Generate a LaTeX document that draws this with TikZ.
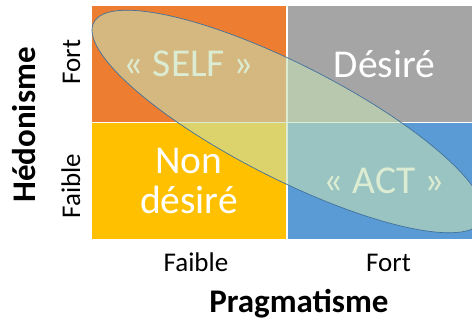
\documentclass[tikz,border=0pt]{standalone}
\usepackage{fontspec}
\setmainfont{Carlito}
\usepackage{xcolor}
\usepackage{tikz}
\usetikzlibrary{positioning,calc}
\definecolor{qorange}{HTML}{ED7D31}
\definecolor{qgray}{HTML}{A5A5A5}
\definecolor{qyellow}{HTML}{FFC000}
\definecolor{qblue}{HTML}{5B9BD5}
\definecolor{ovalfill}{HTML}{C5E0B4}
\definecolor{ovaledge}{HTML}{41719C}
\tikzset{
  quadbox/.style={draw=white, line width=1pt, minimum width=195pt,
                  minimum height=117pt, inner sep=0pt, text=white,
                  align=center, font=\fontsize{39.5}{40}\selectfont},
  ticklabel/.style={font=\fontsize{27}{30}\selectfont, inner sep=0pt},
  axislabel/.style={font=\fontsize{33}{35}\selectfont\bfseries, inner sep=0pt},
  oval/.style={fill=ovalfill, fill opacity=0.6, draw=ovaledge, line width=0.7pt}
}

\begin{document}
\begin{tikzpicture}[x=1pt, y=-1pt]
    \useasboundingbox (0,0) rectangle (472,320);
    \clip (0,0) rectangle (472,320);
    \def\xL{189} \def\xR{384.5}
    \def\yT{64} \def\yB{181}

    % Quadrants
    \node[quadbox, fill=qorange] (self)  at (\xL,\yT) {« SELF »};
    \node[quadbox, fill=qgray]   (desir) at (\xR,\yT) {Désiré};
    \node[quadbox, fill=qyellow] (nondesir) at (\xL,\yB) {Non\\désiré};
    \node[quadbox, fill=qblue]   (act)   at (\xR,\yB) {« ACT »};

    % Oval over the diagonal
    \draw[oval, rotate around={-27:(288,121.5)}]
      (288,121.5) ellipse [x radius=218, y radius=57];

    % Axis ticks
    \node[ticklabel, anchor=base] (xlow)  at (196,272) {Faible};
    \node[ticklabel, anchor=base] (xhigh) at (388.5,272) {Fort};
    \node[ticklabel, anchor=base, rotate=90] (yhigh) at (80,62) {Fort};
    \node[ticklabel, anchor=base, rotate=90] (ylow)  at (80,186) {Faible};

    % Axis titles
    \node[axislabel, anchor=base] (pragma) at (299,312.5) {Pragmatisme};
    \node[axislabel, anchor=base, rotate=90] (hedon) at (35,125) {Hédonisme};
\end{tikzpicture}
\end{document}
